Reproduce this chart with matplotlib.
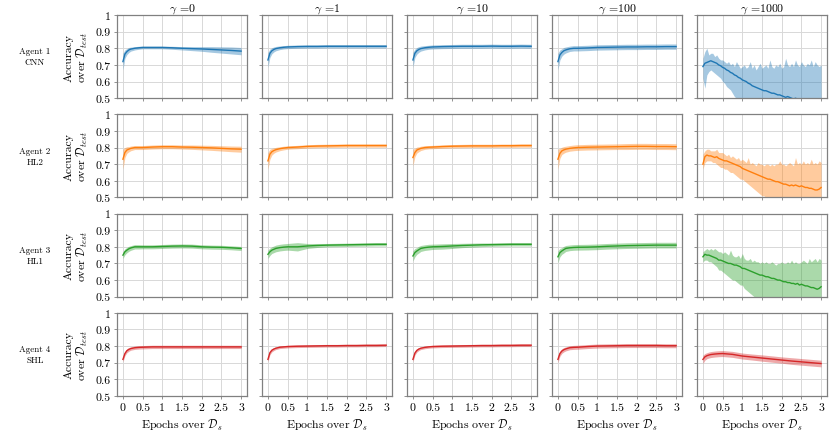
import numpy as np
import matplotlib.pyplot as plt

epochs = [0, 0.05, 0.1, 0.15, 0.2, 0.3, 0.4, 0.5, 0.75, 1.0,
          1.25, 1.5, 1.75, 2.0, 2.25, 2.5, 2.75, 3.0]
epochs_fine = [round(0.05 * i, 2) for i in range(61)]

gammas = [0, 1, 10, 100, 1000]
agent_names = ["Agent 1\nCNN", "Agent 2\nHL2", "Agent 3\nHL1", "Agent 4\nSHL"]
agent_colors = ["#1f77b4", "#ff7f0e", "#2ca02c", "#d62728"]

xtick_vals = [0, 0.5, 1, 1.5, 2, 2.5, 3]
xtick_text = ["0", "0.5", "1", "1.5", "2", "2.5", "3"]
ytick_vals = [0.5, 0.6, 0.7, 0.8, 0.9, 1.0]
ytick_text = ["0.5", "0.6", "0.7", "0.8", "0.9", "1"]

# ---- Agent 1 (CNN), gamma = 0, 1, 10, 100
cnn_mean = [
    [0.72, 0.765, 0.78, 0.79, 0.795, 0.80, 0.803, 0.805, 0.805, 0.805, 0.803, 0.80, 0.798, 0.796, 0.793, 0.79, 0.787, 0.783],
    [0.73, 0.77, 0.785, 0.793, 0.798, 0.803, 0.806, 0.808, 0.81, 0.811, 0.811, 0.812, 0.812, 0.812, 0.812, 0.812, 0.812, 0.812],
    [0.73, 0.77, 0.785, 0.793, 0.798, 0.803, 0.806, 0.808, 0.81, 0.811, 0.812, 0.812, 0.812, 0.813, 0.812, 0.812, 0.813, 0.812],
    [0.72, 0.76, 0.775, 0.785, 0.79, 0.797, 0.80, 0.80, 0.802, 0.805, 0.806, 0.807, 0.808, 0.808, 0.809, 0.809, 0.81, 0.81],
]
cnn_spread = [
    [0.05, 0.025, 0.018, 0.015, 0.012, 0.01, 0.009, 0.008, 0.008, 0.008, 0.009, 0.01, 0.012, 0.014, 0.017, 0.019, 0.021, 0.022],
    [0.045, 0.025, 0.018, 0.015, 0.013, 0.011, 0.01, 0.01, 0.01, 0.01, 0.01, 0.01, 0.01, 0.01, 0.01, 0.01, 0.01, 0.01],
    [0.045, 0.025, 0.02, 0.017, 0.015, 0.013, 0.012, 0.012, 0.012, 0.012, 0.012, 0.012, 0.012, 0.012, 0.012, 0.012, 0.012, 0.012],
    [0.05, 0.03, 0.022, 0.02, 0.018, 0.016, 0.016, 0.016, 0.016, 0.016, 0.016, 0.016, 0.016, 0.016, 0.016, 0.016, 0.016, 0.016],
]
# gamma = 1000 (fine grid)
cnn_g1000_mean = [
    0.69, 0.71, 0.715, 0.72, 0.725, 0.72, 0.715, 0.71, 0.70, 0.695,
    0.685, 0.68, 0.67, 0.665, 0.655, 0.65, 0.64, 0.635, 0.625, 0.62,
    0.61, 0.605, 0.60, 0.59, 0.585, 0.575, 0.57, 0.565, 0.56, 0.555,
    0.55, 0.545, 0.545, 0.54, 0.535, 0.53, 0.53, 0.525, 0.52, 0.52,
    0.515, 0.51, 0.505, 0.51, 0.505, 0.50, 0.495, 0.50, 0.495, 0.49,
    0.495, 0.49, 0.485, 0.49, 0.485, 0.48, 0.485, 0.48, 0.475, 0.48,
    0.475]
cnn_g1000_hi = [
    0.74, 0.78, 0.80, 0.76, 0.77, 0.77, 0.75, 0.76, 0.74, 0.73,
    0.73, 0.72, 0.71, 0.72, 0.70, 0.71, 0.69, 0.72, 0.70, 0.68,
    0.69, 0.70, 0.68, 0.69, 0.72, 0.68, 0.70, 0.67, 0.69, 0.71,
    0.68, 0.69, 0.70, 0.68, 0.73, 0.69, 0.68, 0.70, 0.69, 0.71,
    0.68, 0.69, 0.74, 0.70, 0.69, 0.71, 0.69, 0.73, 0.70, 0.69,
    0.72, 0.70, 0.69, 0.71, 0.70, 0.73, 0.69, 0.72, 0.70, 0.69,
    0.70]
cnn_g1000_lo = [
    0.62, 0.56, 0.64, 0.66, 0.67, 0.66, 0.65, 0.64, 0.63, 0.62,
    0.60, 0.59, 0.57, 0.56, 0.55, 0.53, 0.51, 0.50, 0.48, 0.47,
    0.46, 0.46, 0.45, 0.45, 0.45, 0.45, 0.45, 0.45, 0.45, 0.45,
    0.45, 0.45, 0.45, 0.45, 0.45, 0.45, 0.45, 0.45, 0.45, 0.45,
    0.45, 0.45, 0.45, 0.45, 0.45, 0.45, 0.45, 0.45, 0.45, 0.45,
    0.45, 0.45, 0.45, 0.45, 0.45, 0.45, 0.45, 0.45, 0.45, 0.45,
    0.45]

# ---- Agent 2 (HL2)
hl2_mean = [
    [0.73, 0.77, 0.785, 0.79, 0.795, 0.80, 0.80, 0.80, 0.803, 0.805, 0.805, 0.803, 0.802, 0.80, 0.798, 0.795, 0.792, 0.79],
    [0.72, 0.76, 0.775, 0.782, 0.787, 0.793, 0.797, 0.80, 0.803, 0.807, 0.809, 0.81, 0.811, 0.812, 0.812, 0.812, 0.812, 0.812],
    [0.74, 0.77, 0.785, 0.79, 0.795, 0.80, 0.802, 0.803, 0.806, 0.808, 0.809, 0.81, 0.81, 0.81, 0.811, 0.811, 0.812, 0.812],
    [0.73, 0.765, 0.78, 0.786, 0.79, 0.795, 0.798, 0.80, 0.802, 0.803, 0.804, 0.805, 0.806, 0.807, 0.807, 0.806, 0.806, 0.805],
]
hl2_spread = [
    [0.06, 0.03, 0.02, 0.016, 0.014, 0.012, 0.012, 0.012, 0.012, 0.012, 0.012, 0.012, 0.013, 0.014, 0.015, 0.016, 0.017, 0.018],
    [0.05, 0.03, 0.02, 0.016, 0.014, 0.012, 0.011, 0.01, 0.01, 0.01, 0.01, 0.01, 0.01, 0.01, 0.01, 0.01, 0.01, 0.01],
    [0.05, 0.025, 0.018, 0.015, 0.013, 0.011, 0.01, 0.01, 0.01, 0.01, 0.01, 0.01, 0.01, 0.01, 0.01, 0.01, 0.01, 0.01],
    [0.06, 0.03, 0.022, 0.02, 0.018, 0.017, 0.017, 0.017, 0.017, 0.017, 0.017, 0.017, 0.018, 0.018, 0.018, 0.018, 0.018, 0.018],
]
hl2_g1000_mean = [
    0.70, 0.745, 0.755, 0.75, 0.75, 0.745, 0.74, 0.745, 0.735, 0.73,
    0.725, 0.72, 0.72, 0.715, 0.71, 0.705, 0.70, 0.695, 0.69, 0.685,
    0.675, 0.67, 0.665, 0.66, 0.655, 0.65, 0.645, 0.64, 0.635, 0.63,
    0.625, 0.62, 0.615, 0.61, 0.61, 0.605, 0.60, 0.595, 0.595, 0.59,
    0.585, 0.58, 0.58, 0.575, 0.57, 0.575, 0.57, 0.575, 0.57, 0.565,
    0.57, 0.565, 0.56, 0.56, 0.555, 0.555, 0.55, 0.545, 0.545, 0.55,
    0.56]
hl2_g1000_hi = [
    0.76, 0.78, 0.79, 0.79, 0.78, 0.78, 0.78, 0.79, 0.77, 0.77,
    0.77, 0.76, 0.75, 0.76, 0.74, 0.75, 0.74, 0.73, 0.74, 0.72,
    0.73, 0.72, 0.71, 0.74, 0.70, 0.71, 0.70, 0.69, 0.71, 0.70,
    0.70, 0.69, 0.70, 0.70, 0.69, 0.70, 0.69, 0.70, 0.70, 0.72,
    0.70, 0.70, 0.69, 0.70, 0.71, 0.70, 0.69, 0.74, 0.70, 0.71,
    0.70, 0.72, 0.70, 0.71, 0.70, 0.73, 0.70, 0.71, 0.70, 0.72,
    0.71]
hl2_g1000_lo = [
    0.67, 0.71, 0.72, 0.72, 0.72, 0.71, 0.71, 0.70, 0.69, 0.68,
    0.68, 0.67, 0.67, 0.66, 0.65, 0.65, 0.64, 0.63, 0.62, 0.61,
    0.61, 0.60, 0.59, 0.58, 0.57, 0.56, 0.55, 0.54, 0.53, 0.52,
    0.51, 0.51, 0.50, 0.50, 0.49, 0.48, 0.48, 0.47, 0.47, 0.46,
    0.46, 0.45, 0.45, 0.45, 0.45, 0.45, 0.45, 0.45, 0.45, 0.45,
    0.45, 0.45, 0.45, 0.45, 0.45, 0.45, 0.45, 0.45, 0.45, 0.45,
    0.45]

# ---- Agent 3 (HL1)
hl1_mean = [
    [0.75, 0.77, 0.78, 0.788, 0.793, 0.80, 0.80, 0.80, 0.80, 0.802, 0.804, 0.805, 0.804, 0.80, 0.798, 0.797, 0.794, 0.79],
    [0.755, 0.77, 0.78, 0.785, 0.79, 0.795, 0.798, 0.80, 0.80, 0.805, 0.808, 0.81, 0.811, 0.812, 0.813, 0.814, 0.815, 0.815],
    [0.745, 0.765, 0.775, 0.783, 0.79, 0.795, 0.798, 0.80, 0.802, 0.805, 0.808, 0.81, 0.812, 0.813, 0.814, 0.815, 0.815, 0.815],
    [0.74, 0.765, 0.775, 0.783, 0.79, 0.794, 0.796, 0.797, 0.798, 0.80, 0.803, 0.805, 0.807, 0.808, 0.809, 0.81, 0.81, 0.81],
]
hl1_spread = [
    [0.02, 0.018, 0.016, 0.015, 0.014, 0.013, 0.013, 0.012, 0.012, 0.012, 0.012, 0.012, 0.012, 0.012, 0.012, 0.012, 0.012, 0.012],
    [0.025, 0.022, 0.02, 0.02, 0.02, 0.02, 0.02, 0.02, 0.025, 0.015, 0.012, 0.01, 0.01, 0.01, 0.01, 0.01, 0.01, 0.01],
    [0.03, 0.025, 0.02, 0.02, 0.018, 0.017, 0.017, 0.016, 0.016, 0.015, 0.013, 0.012, 0.011, 0.01, 0.01, 0.01, 0.01, 0.01],
    [0.035, 0.025, 0.02, 0.02, 0.018, 0.017, 0.017, 0.017, 0.017, 0.017, 0.017, 0.017, 0.017, 0.017, 0.017, 0.017, 0.017, 0.017],
]
hl1_g1000_mean = [
    0.74, 0.755, 0.75, 0.75, 0.745, 0.74, 0.735, 0.73, 0.72, 0.72,
    0.715, 0.71, 0.705, 0.70, 0.70, 0.695, 0.69, 0.69, 0.685, 0.68,
    0.67, 0.67, 0.665, 0.66, 0.655, 0.65, 0.645, 0.64, 0.635, 0.63,
    0.63, 0.625, 0.62, 0.62, 0.615, 0.61, 0.61, 0.605, 0.60, 0.60,
    0.595, 0.59, 0.59, 0.585, 0.585, 0.58, 0.58, 0.575, 0.58, 0.57,
    0.575, 0.57, 0.565, 0.565, 0.56, 0.555, 0.555, 0.55, 0.545, 0.55,
    0.56]
hl1_g1000_hi = [
    0.77, 0.78, 0.79, 0.78, 0.79, 0.78, 0.79, 0.78, 0.77, 0.77,
    0.76, 0.77, 0.76, 0.75, 0.78, 0.75, 0.74, 0.74, 0.75, 0.73,
    0.76, 0.73, 0.72, 0.72, 0.73, 0.71, 0.72, 0.71, 0.71, 0.70,
    0.71, 0.70, 0.71, 0.70, 0.70, 0.71, 0.70, 0.69, 0.70, 0.70,
    0.71, 0.70, 0.70, 0.71, 0.70, 0.72, 0.70, 0.71, 0.70, 0.70,
    0.71, 0.72, 0.71, 0.70, 0.73, 0.71, 0.72, 0.73, 0.71, 0.73,
    0.72]
hl1_g1000_lo = [
    0.71, 0.72, 0.72, 0.71, 0.71, 0.70, 0.69, 0.68, 0.66, 0.66,
    0.65, 0.64, 0.63, 0.62, 0.61, 0.60, 0.60, 0.59, 0.58, 0.57,
    0.57, 0.55, 0.54, 0.53, 0.52, 0.51, 0.50, 0.50, 0.49, 0.48,
    0.47, 0.46, 0.45, 0.45, 0.45, 0.45, 0.45, 0.45, 0.45, 0.45,
    0.45, 0.45, 0.45, 0.45, 0.45, 0.45, 0.45, 0.45, 0.45, 0.45,
    0.45, 0.45, 0.45, 0.45, 0.45, 0.45, 0.45, 0.45, 0.45, 0.45,
    0.45]

# ---- Agent 4 (SHL), gamma = 0, 1, 10, 100, 1000
shl_mean = [
    [0.72, 0.755, 0.772, 0.78, 0.785, 0.79, 0.792, 0.793, 0.795, 0.795, 0.795, 0.795, 0.795, 0.795, 0.795, 0.795, 0.795, 0.795],
    [0.72, 0.76, 0.775, 0.782, 0.787, 0.793, 0.795, 0.797, 0.799, 0.80, 0.801, 0.802, 0.802, 0.803, 0.803, 0.804, 0.804, 0.805],
    [0.72, 0.758, 0.774, 0.782, 0.787, 0.792, 0.795, 0.797, 0.799, 0.80, 0.801, 0.802, 0.803, 0.803, 0.804, 0.804, 0.805, 0.805],
    [0.72, 0.755, 0.77, 0.778, 0.783, 0.79, 0.792, 0.793, 0.797, 0.80, 0.801, 0.802, 0.803, 0.803, 0.803, 0.803, 0.802, 0.802],
    [0.72, 0.735, 0.742, 0.746, 0.749, 0.752, 0.754, 0.755, 0.75, 0.74, 0.734, 0.728, 0.722, 0.716, 0.71, 0.705, 0.70, 0.695],
]
shl_spread = [
    [0.015, 0.013, 0.012, 0.011, 0.01, 0.01, 0.01, 0.01, 0.01, 0.01, 0.01, 0.01, 0.01, 0.01, 0.01, 0.01, 0.01, 0.01],
    [0.015, 0.012, 0.01, 0.009, 0.008, 0.008, 0.008, 0.008, 0.008, 0.008, 0.008, 0.008, 0.008, 0.008, 0.008, 0.008, 0.008, 0.008],
    [0.015, 0.012, 0.01, 0.009, 0.008, 0.008, 0.008, 0.008, 0.008, 0.008, 0.008, 0.008, 0.008, 0.008, 0.008, 0.008, 0.008, 0.008],
    [0.02, 0.016, 0.014, 0.013, 0.012, 0.012, 0.012, 0.012, 0.012, 0.012, 0.012, 0.012, 0.012, 0.012, 0.012, 0.012, 0.012, 0.012],
    [0.025, 0.02, 0.018, 0.018, 0.018, 0.018, 0.018, 0.018, 0.018, 0.018, 0.018, 0.019, 0.019, 0.019, 0.02, 0.02, 0.02, 0.02],
]

plt.rcParams.update({
    "font.family": "serif",
    "font.serif": ["cmr10"],
    "mathtext.fontset": "cm",
    "axes.formatter.use_mathtext": True,
    "axes.unicode_minus": False,
})

rows = [
    (cnn_mean, cnn_spread, (cnn_g1000_mean, cnn_g1000_lo, cnn_g1000_hi)),
    (hl2_mean, hl2_spread, (hl2_g1000_mean, hl2_g1000_lo, hl2_g1000_hi)),
    (hl1_mean, hl1_spread, (hl1_g1000_mean, hl1_g1000_lo, hl1_g1000_hi)),
    (shl_mean, shl_spread, None),
]

fig, axes = plt.subplots(4, 5, figsize=(8.3, 4.35), dpi=100)
fig.subplots_adjust(left=0.141, right=0.9964, top=0.9632, bottom=0.0874,
                    wspace=0.1154, hspace=0.193)

frame_col = "#808080"

for r, (means, spreads, fine) in enumerate(rows):
    col = agent_colors[r]
    for c, g in enumerate(gammas):
        ax = axes[r][c]
        if c < len(means):
            x = epochs
            m = np.array(means[c])
            s = np.array(spreads[c])
            lo, hi = m - s, m + s
        else:
            x = epochs_fine
            m = np.array(fine[0])
            lo = np.array(fine[1])
            hi = np.array(fine[2])
        ax.fill_between(x, lo, hi, color=col, alpha=0.4, lw=0)
        ax.plot(x, m, color=col, lw=1.0)

        ax.set_xlim(-0.15, 3.15)
        ax.set_ylim(0.5, 1.0)
        ax.set_xticks(xtick_vals)
        ax.set_yticks(ytick_vals)
        ax.grid(True, color="#d8d8d8", lw=0.7)
        ax.set_axisbelow(True)
        for sp in ax.spines.values():
            sp.set_color(frame_col)
            sp.set_linewidth(0.9)
        ax.tick_params(length=2.5, width=0.6, color=frame_col, labelsize=8.5, pad=2)

        if c == 0:
            ax.set_yticklabels(ytick_text)
            ax.set_ylabel("Accuracy\nover $\\mathcal{D}_{test}$", fontsize=8.5, labelpad=4,
                          linespacing=1.1)
        else:
            ax.set_yticklabels([])
        if r == 3:
            ax.set_xticklabels(xtick_text)
            ax.set_xlabel("Epochs over $\\mathcal{D}_s$", fontsize=8.5, labelpad=4)
        else:
            ax.set_xticklabels([])
        if r == 0:
            ax.set_title("$\\gamma$ =" + str(g), fontsize=8.5, pad=3)

    pos = axes[r][0].get_position()
    fig.text(0.042, (pos.y0 + pos.y1) / 2, agent_names[r], ha="center", va="center",
             fontsize=6.5, linespacing=1.4)

fig.savefig("out.png", dpi=100)
